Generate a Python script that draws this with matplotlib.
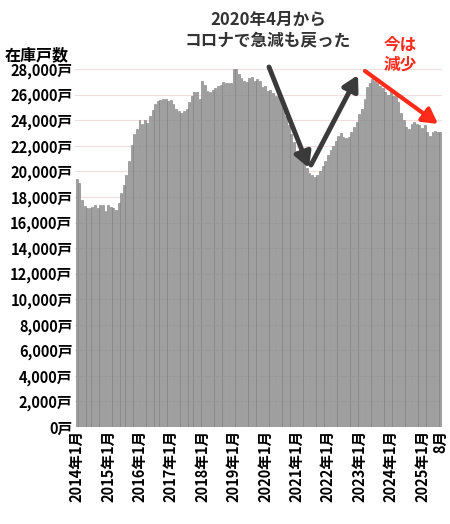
import matplotlib
matplotlib.use("Agg")
import matplotlib.pyplot as plt
import numpy as np

plt.rcParams['font.family'] = ['Noto Sans CJK JP', 'DejaVu Sans']

y2014 = [19400,19100,17800,17300,17100,17100,17200,17400,17100,17400,17400,16900]
y2015 = [17400,17200,17100,17000,17500,18300,18900,19700,20800,22100,22900,23300]
y2016 = [24000,23700,24000,23800,24300,24800,25300,25500,25600,25700,25700,25500]
y2017 = [25600,25300,24900,24700,24600,24700,24900,25400,25900,26200,26200,25700]
y2018 = [27100,26800,26300,26200,26400,26500,26700,26800,27000,26900,26900,26900]
y2019 = [28000,28000,27600,27300,27100,27000,27300,27400,27100,27200,27100,26600]
y2020 = [26700,26300,26400,26100,25900,25900,25600,25000,24300,23600,22900,22300]
y2021 = [21600,21200,21000,20700,20300,19900,19700,19600,19700,20000,20400,20800]
y2022 = [21300,21700,22000,22400,22800,23000,22700,22600,22700,23100,23500,23900]
y2023 = [24500,24900,25700,26600,26900,27200,27100,26900,26700,26500,26200,26000]
y2024 = [26300,25900,26100,25400,24600,24000,23500,23300,23700,23900,23700,23600]
y2025 = [23400,23600,23100,22800,23100,23200,23100,23100]
values = y2014+y2015+y2016+y2017+y2018+y2019+y2020+y2021+y2022+y2023+y2024+y2025
years = list(range(2014, 2026))
tick_labels = [f"{y}年1月" for y in years] + ["8月"]
yticks = list(range(0, 28001, 2000))

fig = plt.figure(figsize=(4.5, 5.24), dpi=100)
ax = fig.add_axes([0.167, 0.185, 0.815, 0.683])
x = np.arange(len(values))
ax.bar(x, values, width=0.72, color='#a0a0a0', edgecolor='#7a7a7a', linewidth=0.4, zorder=2)
ax.set_ylim(0, 28000)
ax.set_xlim(-0.6, len(values) - 0.4)
ax.set_yticks(yticks)
ax.set_yticklabels([f"{v:,}戸" for v in yticks], fontsize=10.5, fontweight='bold')
ax.yaxis.grid(True, color='#f0dede', lw=0.8, zorder=0)
tpos = [12 * i for i in range(len(years))] + [len(values) - 1]
ax.set_xticks(tpos)
ax.set_xticklabels(tick_labels, rotation=90, fontsize=10.5, fontweight='bold')
ax.tick_params(length=0, pad=2)
for s in ax.spines.values():
    s.set_visible(False)

H = 524
fig.text(5/450, 1 - 55/H, "在庫戸数", fontsize=11.5, fontweight='bold', va='center')
fig.text(268/450, 1 - 30/H, "2020年4月から\nコロナで急減も戻った", fontsize=12,
         fontweight='bold', ha='center', va='center', color='#333333', linespacing=1.15)
fig.text(400/450, 1 - 55/H, "今は\n減少", fontsize=12, fontweight='bold',
         ha='center', va='center', color='#ff2a1a', linespacing=1.15)
ap = dict(arrowstyle='-|>,head_length=0.9,head_width=0.5', lw=3.5, color='#3a3a3a', shrinkA=0, shrinkB=0)
ax.annotate('', xy=(309, H - 168), xytext=(269, H - 67), xycoords='figure pixels', textcoords='figure pixels', arrowprops=ap)
ax.annotate('', xy=(358, H - 75), xytext=(311, H - 165), xycoords='figure pixels', textcoords='figure pixels', arrowprops=ap)
ap2 = dict(ap, color='#ff2a1a', lw=3)
ax.annotate('', xy=(438, H - 124), xytext=(365, H - 71), xycoords='figure pixels', textcoords='figure pixels', arrowprops=ap2)
fig.savefig("out.png", dpi=100)
